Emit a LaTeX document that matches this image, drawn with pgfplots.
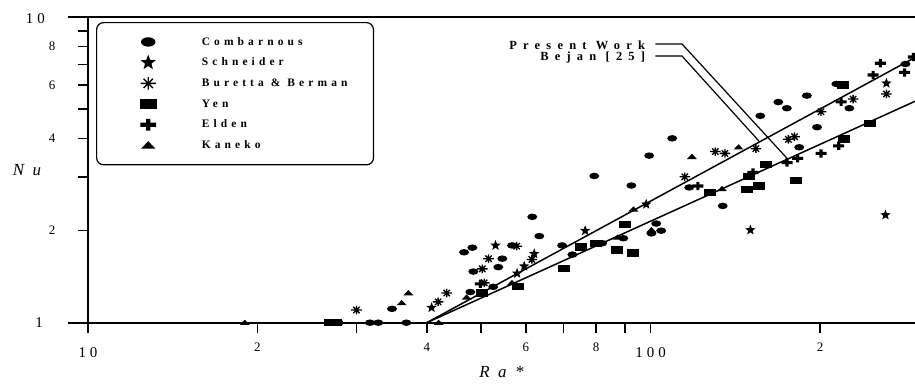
\documentclass[border=0pt]{standalone}
\usepackage{fontspec}
\setmainfont{Liberation Serif}
\newfontfamily\legfont[LetterSpace=36]{Liberation Serif}
\newfontfamily\annfont[LetterSpace=50]{Liberation Serif}
\newfontfamily\labfont[LetterSpace=50]{Liberation Serif}
\usepackage{pgfplots}
\pgfplotsset{compat=1.18}

\pgfdeclareplotmark{ell}{%
 \pgfpathellipse{\pgfpointorigin}{\pgfqpoint{\pgfplotmarksize}{0pt}}{\pgfqpoint{0pt}{0.65\pgfplotmarksize}}%
 \pgfusepathqfill}
\pgfdeclareplotmark{fstar}{%
 \pgfpathmoveto{\pgfqpointpolar{90}{\pgfplotmarksize}}%
 \pgfpathlineto{\pgfqpointpolar{126}{0.42\pgfplotmarksize}}%
 \pgfpathlineto{\pgfqpointpolar{162}{\pgfplotmarksize}}%
 \pgfpathlineto{\pgfqpointpolar{198}{0.42\pgfplotmarksize}}%
 \pgfpathlineto{\pgfqpointpolar{234}{\pgfplotmarksize}}%
 \pgfpathlineto{\pgfqpointpolar{270}{0.42\pgfplotmarksize}}%
 \pgfpathlineto{\pgfqpointpolar{306}{\pgfplotmarksize}}%
 \pgfpathlineto{\pgfqpointpolar{342}{0.42\pgfplotmarksize}}%
 \pgfpathlineto{\pgfqpointpolar{18}{\pgfplotmarksize}}%
 \pgfpathlineto{\pgfqpointpolar{54}{0.42\pgfplotmarksize}}%
 \pgfpathclose\pgfusepathqfill}
\pgfdeclareplotmark{aster}{%
 \pgfpathmoveto{\pgfqpoint{-\pgfplotmarksize}{0pt}}\pgfpathlineto{\pgfqpoint{\pgfplotmarksize}{0pt}}%
 \pgfpathmoveto{\pgfqpoint{0pt}{-0.8\pgfplotmarksize}}\pgfpathlineto{\pgfqpoint{0pt}{0.8\pgfplotmarksize}}%
 \pgfpathmoveto{\pgfqpoint{-0.6\pgfplotmarksize}{-0.6\pgfplotmarksize}}\pgfpathlineto{\pgfqpoint{0.6\pgfplotmarksize}{0.6\pgfplotmarksize}}%
 \pgfpathmoveto{\pgfqpoint{-0.6\pgfplotmarksize}{0.6\pgfplotmarksize}}\pgfpathlineto{\pgfqpoint{0.6\pgfplotmarksize}{-0.6\pgfplotmarksize}}%
 \pgfusepathqstroke}
\pgfdeclareplotmark{rect}{%
 \pgfpathrectangle{\pgfqpoint{-\pgfplotmarksize}{-0.6\pgfplotmarksize}}{\pgfqpoint{2\pgfplotmarksize}{1.2\pgfplotmarksize}}%
 \pgfusepathqfill}
\pgfdeclareplotmark{fplus}{%
 \pgfpathrectangle{\pgfqpoint{-\pgfplotmarksize}{-0.28\pgfplotmarksize}}{\pgfqpoint{2\pgfplotmarksize}{0.56\pgfplotmarksize}}%
 \pgfpathrectangle{\pgfqpoint{-0.28\pgfplotmarksize}{-0.75\pgfplotmarksize}}{\pgfqpoint{0.56\pgfplotmarksize}{1.5\pgfplotmarksize}}%
 \pgfusepathqfill}
\pgfdeclareplotmark{ftri}{%
 \pgfpathmoveto{\pgfqpoint{0pt}{0.6\pgfplotmarksize}}%
 \pgfpathlineto{\pgfqpoint{-\pgfplotmarksize}{-0.45\pgfplotmarksize}}%
 \pgfpathlineto{\pgfqpoint{\pgfplotmarksize}{-0.45\pgfplotmarksize}}%
 \pgfpathclose\pgfusepathqfill}

\pgfplotsset{leg/.style={legend image code/.code={%
  \path (0bp,0bp) (86bp,0bp);
  \draw[##1, sharp corners, line width=1.3bp, /tikz/every mark/.append style={scale=1.45}] plot coordinates {(35bp,0bp)};}}}

\newcommand{\mj}[1]{{\fontsize{15}{15}\selectfont #1}}

\begin{document}
\begin{tikzpicture}
\begin{axis}[
  scale only axis, width=827bp, height=305.7bp,
  xmode=log, ymode=log, xmin=10, xmax=295, ymin=1, ymax=10,
  axis x line*=box, axis y line*=left,
  axis line style={line width=1.6bp, -},
  xtick={10,20,40,60,80,100,200},
  xticklabels={{\raisebox{-6bp}{\mj{1\hspace{4bp}0}}},2,4,6,8,{\raisebox{-6bp}{\mj{1\hspace{4bp}0\hspace{4bp}0}}},2},
  minor xtick={30,50,70,90},
  ytick={1,2,4,6,8,10},
  yticklabels={{},2,4,6,8,{}},
  minor ytick={3,5,7,9},
  tick align=outside, xtick pos=bottom, ytick pos=left,
  major tick length=10.5bp, minor tick length=10.5bp,
  tick style={line width=1.6bp, black},
  minor tick style={line width=1.6bp, black},
  ticklabel style={font=\fontsize{13}{13}\selectfont},
  xticklabel style={anchor=base, inner sep=0pt, yshift=-18bp},
  yticklabel style={inner sep=0pt, xshift=-22bp},
  xlabel={\labfont\itshape\fontsize{17}{18}\selectfont Ra*},
  ylabel={\labfont\itshape\fontsize{17}{18}\selectfont Nu},
  every axis x label/.style={at={(rel axis cs:0.5,0)}, anchor=center, yshift=-49bp},
  every axis y label/.style={at={(rel axis cs:0,0.5)}, anchor=center, xshift=-61bp},
  legend style={at={(0.0097,0.9836)}, anchor=north west, draw=black, line width=1.2bp,
    rounded corners=7bp, inner xsep=16bp, inner ysep=9bp, row sep=0pt,
    font=\legfont\bfseries\fontsize{11.5}{12}\selectfont,
    nodes={minimum height=20.7bp, inner ysep=0pt}},
  legend cell align=left,
]
% Combarnous
\addplot[only marks, mark=ell, mark size=5bp, black, leg] coordinates {
(27.9,1.0) (31.7,1.0) (32.8,1.0) (36.8,1.0) (34.7,1.11) (46.6,1.70) (48.2,1.76)
(48.4,1.47) (47.8,1.26) (52.5,1.31) (53.6,1.52) (54.5,1.62) (56.7,1.79) (61.6,2.22)
(63.4,1.92) (69.6,1.79) (72.6,1.67) (79.4,3.02) (82.0,1.82) (89.4,1.89) (92.4,2.81)
(99.4,3.52) (100.3,1.96) (102.3,2.11) (104.4,2.0) (109.2,4.01) (117.1,2.77) (134.3,2.41)
(156.6,4.75) (168.6,5.27) (174.6,5.03) (189.5,5.53) (197.6,4.36) (183.7,3.75)
(213.8,6.04) (225.5,5.03) (283.7,7.02)};
\addlegendentry{Combarnous}
% Schneider
\addplot[only marks, mark=fstar, mark size=5.5bp, black, leg] coordinates {
(40.8,1.12) (53.0,1.79) (62.1,1.68) (59.6,1.53) (57.9,1.45) (76.5,2.0) (98.2,2.44)
(150.4,2.01) (261.4,2.25) (262.4,6.07)};
\addlegendentry{Schneider}
% Buretta & Berman
\addplot[only marks, mark=aster, mark size=5.3bp, black, mark options={line width=1.3bp}, leg] coordinates {
(30.0,1.10) (41.9,1.17) (43.4,1.25) (50.6,1.35) (50.2,1.50) (51.5,1.62) (57.8,1.78)
(61.5,1.61) (115.0,3.0) (130.3,3.63) (135.5,3.58) (153.8,3.71) (175.7,3.98) (180.2,4.06)
(200.8,4.90) (229.0,5.39) (262.4,5.60)};
\addlegendentry{Buretta \& Berman\hspace*{8bp}}
% Yen
\addplot[only marks, mark=rect, mark size=6bp, black, leg] coordinates {
(26.9,1.0) (27.6,1.0) (50.1,1.25) (58.0,1.31) (70.1,1.50) (75.1,1.77) (80.1,1.82)
(87.2,1.73) (93.2,1.69) (90.2,2.10) (127.5,2.67) (148.6,2.73) (155.6,2.80) (181.5,2.92)
(160.6,3.29) (149.7,3.0) (219.8,5.99) (220.3,3.99) (245.8,4.49)};
\addlegendentry{Yen}
% Elden
\addplot[only marks, mark=fplus, mark size=5.5bp, black, leg] coordinates {
(49.8,1.34) (121.3,2.80) (152.0,3.10) (174.7,3.34) (182.5,3.45) (200.8,3.58) (215.9,3.79)
(218.0,5.28) (248.5,6.46) (256.0,7.06) (282.8,6.59) (293,7.4)};
\addlegendentry{Elden}
% Kaneko
\addplot[only marks, mark=ftri, mark size=5bp, black, leg] coordinates {
(19.0,1.0) (36.1,1.16) (37.1,1.25) (42.0,1.0) (47.1,1.21) (56.7,1.35) (87.3,1.90)
(100.3,2.01) (93.2,2.35) (118.4,3.49) (133.9,2.74) (143.3,3.75)};
\addlegendentry{Kaneko}
% correlation lines
\addplot[black, line width=1.5bp, forget plot] coordinates {(40,1) (295,7.375)};
\addplot[black, line width=1.5bp, forget plot] coordinates {(40,1) (295,5.3)};
% leaders and labels
\draw[line width=1.2bp] (axis cs:101.9,8.16) -- (axis cs:113.7,8.16) -- (axis cs:174.7,3.45);
\draw[line width=1.2bp] (axis cs:101.9,7.45) -- (axis cs:113.7,7.45) -- (axis cs:156.2,3.905);
\node[anchor=east, inner sep=0pt, font=\annfont\bfseries\fontsize{12.5}{12.5}\selectfont] at ([xshift=-10bp,yshift=-1bp]axis cs:101.9,8.16) {Present Work};
\node[anchor=east, inner sep=0pt, font=\annfont\bfseries\fontsize{12.5}{12.5}\selectfont] at ([xshift=-10bp,yshift=-1bp]axis cs:101.9,7.45) {Bejan [25]};
\coordinate (SW) at (rel axis cs:0,0);
\coordinate (NW) at (rel axis cs:0,1);
\coordinate (NE) at (rel axis cs:1,1);
\end{axis}
% left extensions of the horizontal lines at 1 and 10, and their labels
\draw[line width=1.6bp] (SW) -- ++(-20bp,0pt);
\draw[line width=1.6bp] (NW) -- ++(-20bp,0pt);
\node[anchor=east, inner sep=0pt] at ([xshift=-45bp]SW) {\mj{1}};
\node[anchor=east, inner sep=0pt] at ([xshift=-43bp,yshift=-1.5bp]NW) {\mj{1\hspace{4bp}0}};
\pgfresetboundingbox
\path ([shift={(-88bp,-62.3bp)}]SW) rectangle ([shift={(0bp,17bp)}]NE);
\end{tikzpicture}
\end{document}
